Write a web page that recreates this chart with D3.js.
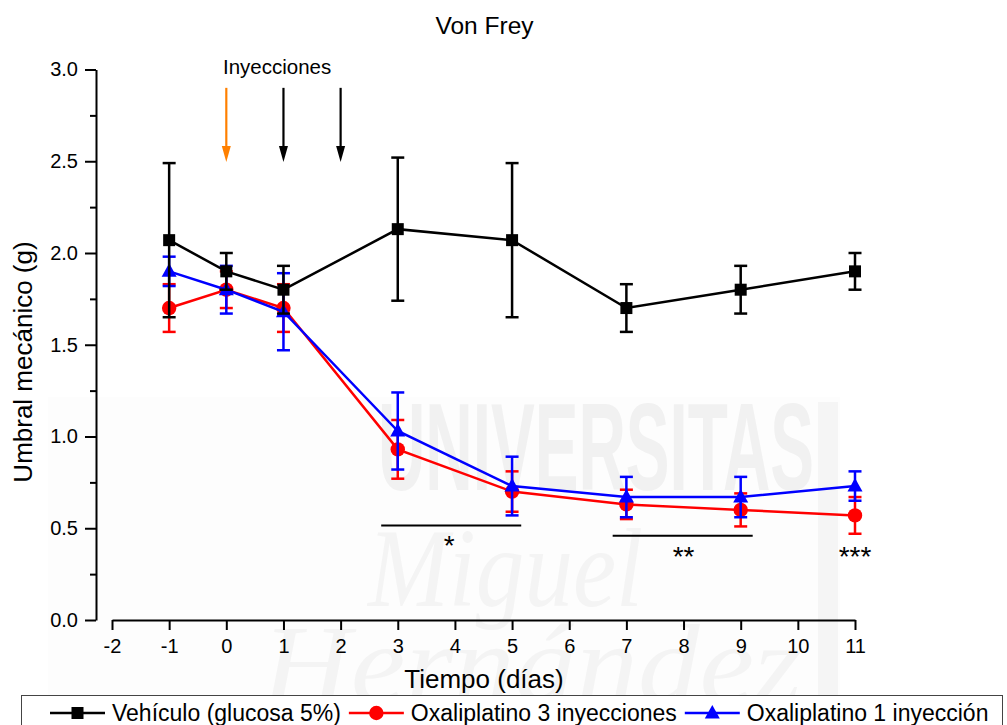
<!DOCTYPE html>
<html>
<head>
<meta charset="utf-8">
<script src="https://cdn.jsdelivr.net/npm/d3@7"></script>
<style>
  html, body { margin: 0; padding: 0; background: #fff; }
  svg { display: block; font-family: "Liberation Sans", Arial, sans-serif; }
</style>
</head>
<body>
<svg id="chart" width="1007" height="725"></svg>
<script>
// Time points (days) and measured thresholds (g), mean ± error
const days = [-1, 0, 1, 3, 5, 7, 9, 11];

const vehiculoMean = [2.07, 1.90, 1.80, 2.13, 2.07, 1.70, 1.80, 1.90];
const vehiculoErr  = [0.42, 0.10, 0.13, 0.39, 0.42, 0.13, 0.13, 0.10];

const oxa3Mean = [1.70, 1.80, 1.70, 0.93, 0.70, 0.63, 0.60, 0.57];
const oxa3Err  = [0.13, 0.10, 0.13, 0.16, 0.11, 0.08, 0.09, 0.10];

const oxa1Mean = [1.90, 1.80, 1.68, 1.03, 0.73, 0.67, 0.67, 0.73];
const oxa1Err  = [0.08, 0.13, 0.21, 0.21, 0.16, 0.11, 0.11, 0.08];

const xTicks = [-2, -1, 0, 1, 2, 3, 4, 5, 6, 7, 8, 9, 10, 11];
const yTicks = [0, 0.5, 1.0, 1.5, 2.0, 2.5, 3.0];
const yMinorTicks = [0.25, 0.75, 1.25, 1.75, 2.25, 2.75];

// Injection days (first one highlighted)
const injectionDays = [0, 1, 2];
const injectionColors = ["#ff8000", "#000000", "#000000"];

// Significance brackets: [from day, to day, level (g), label day, label]
const sigBars = [
  { x0: 2.71, x1: 5.16, y: 0.515, lx: 3.9, label: "*" },
  { x0: 6.76, x1: 9.21, y: 0.459, lx: 8.0, label: "**" }
];
const sigSingle = [{ lx: 11, y: 0.459, label: "***" }];

const seriesList = [
  { name: "Oxaliplatino 3 inyecciones", mean: oxa3Mean, err: oxa3Err, color: "#ff0000", shape: "circle" },
  { name: "Oxaliplatino 1 inyección", mean: oxa1Mean, err: oxa1Err, color: "#0000ff", shape: "triangle" },
  { name: "Vehículo (glucosa 5%)", mean: vehiculoMean, err: vehiculoErr, color: "#000000", shape: "square" }
];
const legendOrder = [2, 0, 1];

const svg = d3.select("#chart");

// Faint background lettering
const wm = svg.append("g").attr("pointer-events", "none");
wm.append("rect").attr("x", 48).attr("y", 397).attr("width", 792).attr("height", 330).attr("fill", "#fdfdfd");
wm.append("rect").attr("x", 818).attr("y", 402).attr("width", 20).attr("height", 300).attr("fill", "#f5f5f5");
wm.append("text").attr("x", 378).attr("y", 490)
  .attr("textLength", 436).attr("lengthAdjust", "spacingAndGlyphs")
  .style("font-size", "124px").style("font-weight", "bold").attr("fill", "#f1f1f1")
  .text("UNIVERSITAS");
wm.append("text").attr("x", 368).attr("y", 606)
  .attr("textLength", 275).attr("lengthAdjust", "spacingAndGlyphs")
  .style("font-family", "'Liberation Serif', serif").style("font-style", "italic")
  .style("font-size", "112px").attr("fill", "#f4f4f4")
  .text("Miguel");
wm.append("text").attr("x", 262).attr("y", 702)
  .attr("textLength", 540).attr("lengthAdjust", "spacingAndGlyphs")
  .style("font-family", "'Liberation Serif', serif").style("font-style", "italic")
  .style("font-size", "112px").attr("fill", "#f4f4f4")
  .text("Hernández");

const x = d3.scaleLinear().domain([-2, 11]).range([112, 855]);
const y = d3.scaleLinear().domain([0, 3]).range([620, 69.5]);

// Y axis
svg.append("g").attr("transform", "translate(96,0)")
  .call(d3.axisLeft(y).tickValues(yTicks).tickFormat(d3.format(".1f")).tickSize(11).tickSizeOuter(0).tickPadding(7));
svg.append("g").attr("transform", "translate(96,0)")
  .call(d3.axisLeft(y).tickValues(yMinorTicks).tickFormat("").tickSize(6).tickSizeOuter(0))
  .select(".domain").remove();

// X axis (plain hyphen for negatives)
svg.append("g").attr("transform", "translate(0,620)")
  .call(d3.axisBottom(x).tickValues(xTicks).tickFormat(d => String(d)).tickSize(10).tickSizeOuter(0).tickPadding(9));

svg.selectAll(".tick text").style("font-size", "20px").attr("fill", "#000")
  .style("font-family", "'Liberation Sans', Arial, sans-serif");
svg.selectAll(".domain, .tick line").attr("stroke", "#000").attr("stroke-width", 2);

// Axis titles
svg.append("text").attr("x", 484).attr("y", 688).attr("text-anchor", "middle")
  .style("font-size", "26px").text("Tiempo (días)");
svg.append("text").attr("transform", "translate(32,362) rotate(-90)").attr("text-anchor", "middle")
  .style("font-size", "26px").text("Umbral mecánico (g)");

// Title
svg.append("text").attr("x", 484.5).attr("y", 34).attr("text-anchor", "middle")
  .style("font-size", "24.5px").text("Von Frey");

// Injection arrows
const arrows = svg.append("g");
injectionDays.forEach((d, i) => {
  const cx = x(d), y0 = y(2.90), y1 = y(2.496);
  arrows.append("line").attr("x1", cx).attr("x2", cx).attr("y1", y0).attr("y2", y1 - 12)
    .attr("stroke", injectionColors[i]).attr("stroke-width", 2.2);
  arrows.append("path")
    .attr("d", `M${cx - 4.5},${y1 - 16} L${cx + 4.5},${y1 - 16} L${cx},${y1} Z`)
    .attr("fill", injectionColors[i]);
});
svg.append("text").attr("x", 223).attr("y", 74).style("font-size", "20.5px").text("Inyecciones");

// Marker drawing helper
function marker(g, shape, color, cx, cy) {
  if (shape === "circle") {
    g.append("circle").attr("cx", cx).attr("cy", cy).attr("r", 7.2).attr("fill", color);
  } else if (shape === "square") {
    g.append("rect").attr("x", cx - 6).attr("y", cy - 6).attr("width", 12).attr("height", 12).attr("fill", color);
  } else {
    g.append("path").attr("d", `M${cx},${cy - 8} L${cx + 7.5},${cy + 5.5} L${cx - 7.5},${cy + 5.5} Z`).attr("fill", color);
  }
}

// Series: lines, error bars, markers
const line = d3.line().x(d => x(d[0])).y(d => y(d[1]));
seriesList.forEach(s => {
  const g = svg.append("g");
  const pts = days.map((d, i) => [d, s.mean[i], s.err[i]]);
  g.append("path").attr("d", line(pts)).attr("fill", "none")
    .attr("stroke", s.color).attr("stroke-width", 2.5);
  pts.forEach(p => {
    const cx = x(p[0]), top = y(p[1] + p[2]), bot = y(p[1] - p[2]);
    g.append("line").attr("x1", cx).attr("x2", cx).attr("y1", top).attr("y2", bot)
      .attr("stroke", s.color).attr("stroke-width", 2.5);
    [top, bot].forEach(yy => g.append("line").attr("x1", cx - 6.5).attr("x2", cx + 6.5)
      .attr("y1", yy).attr("y2", yy).attr("stroke", s.color).attr("stroke-width", 2.5));
    marker(g, s.shape, s.color, cx, y(p[1]));
  });
});

// Significance marks
const sig = svg.append("g");
sigBars.forEach(b => {
  sig.append("line").attr("x1", x(b.x0)).attr("x2", x(b.x1)).attr("y1", y(b.y)).attr("y2", y(b.y))
    .attr("stroke", "#000").attr("stroke-width", 1.8);
  sig.append("text").attr("x", x(b.lx)).attr("y", y(b.y) + 30).attr("text-anchor", "middle")
    .style("font-size", "28px").text(b.label);
});
sigSingle.forEach(b => {
  sig.append("text").attr("x", x(b.lx)).attr("y", y(b.y) + 30).attr("text-anchor", "middle")
    .style("font-size", "28px").text(b.label);
});

// Legend
const lg = svg.append("g");
lg.append("rect").attr("x", 21.5).attr("y", 695.5).attr("width", 981).attr("height", 40)
  .attr("fill", "#fff").attr("stroke", "#444").attr("stroke-width", 1);
let lx = 50;
legendOrder.forEach(idx => {
  const s = seriesList[idx];
  const ly = 713;
  lg.append("line").attr("x1", lx).attr("x2", lx + 55).attr("y1", ly).attr("y2", ly)
    .attr("stroke", s.color).attr("stroke-width", 2.5);
  marker(lg, s.shape, s.color, lx + 27.5, ly);
  const t = lg.append("text").attr("x", lx + 62).attr("y", 720.5).style("font-size", "23px").text(s.name);
  lx = lx + 62 + t.node().getComputedTextLength() + 8;
});
</script>
</body>
</html>
